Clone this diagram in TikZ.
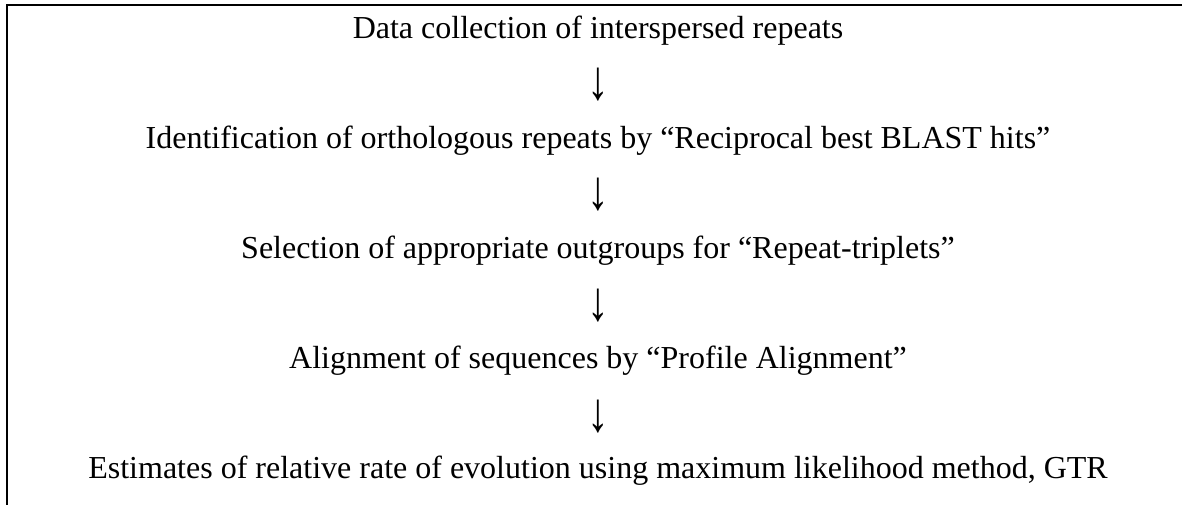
\documentclass[tikz,border=0pt]{standalone}
\usepackage{fontspec}
\usepackage{graphicx}
\setmainfont{Liberation Serif}
\begin{document}
\begin{tikzpicture}[x=0.75pt,y=-0.75pt,
  stage/.style={anchor=base,inner sep=0pt,font=\fontsize{24}{28}\selectfont},
  flow/.style={anchor=center,inner sep=0pt,font=\fontsize{24}{28}\selectfont}]
\useasboundingbox (0,0) rectangle (1182,504);
% frame: only the top and left rules fall inside the page
\draw[line width=1.5pt] (7,520) -- (7,5) -- (1200,5);
\node[stage] (s1) at (598,38)  {Data collection of interspersed repeats};
\node[flow]  (a1) at (598,85)  {\scalebox{1.35}[1.75]{↓}};
\node[stage] (s2) at (598,148) {Identification of orthologous repeats by “Reciprocal best BLAST hits”};
\node[flow]  (a2) at (598,195) {\scalebox{1.35}[1.75]{↓}};
\node[stage] (s3) at (598,258) {Selection of appropriate outgroups for “Repeat-triplets”};
\node[flow]  (a3) at (598,306) {\scalebox{1.35}[1.75]{↓}};
\node[stage] (s4) at (598,368) {Alignment of sequences by “Profile Alignment”};
\node[flow]  (a4) at (598,417) {\scalebox{1.35}[1.75]{↓}};
\node[stage] (s5) at (598,478) {Estimates of relative rate of evolution using maximum likelihood method, GTR};
\end{tikzpicture}
\end{document}
